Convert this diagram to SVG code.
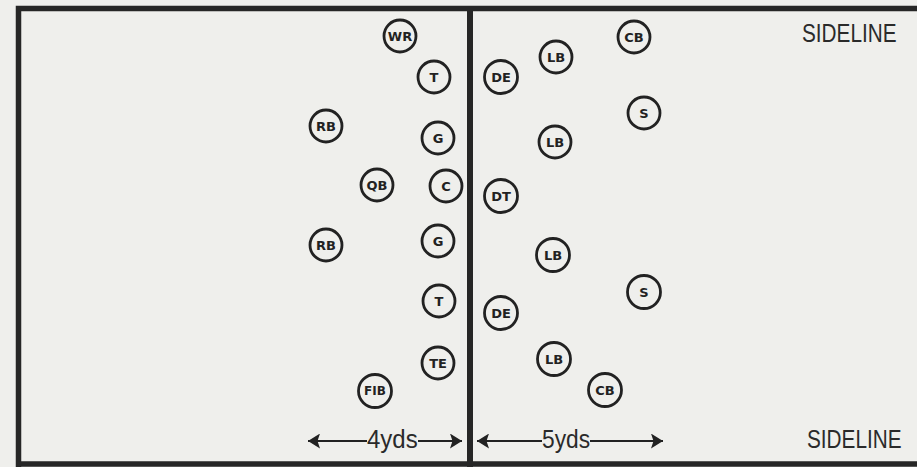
<svg xmlns="http://www.w3.org/2000/svg" width="917" height="467" viewBox="0 0 917 467">
<defs>
<style>
.p circle{fill:none;stroke:#222;stroke-width:2.8}
.p text{font-family:"DejaVu Sans",sans-serif;font-weight:bold;font-size:13px;fill:#222;text-anchor:middle;dominant-baseline:central}
.lbl{font-family:"Liberation Sans",Arial,sans-serif;font-size:25px;fill:#2a2a2a}
.ar{stroke:#222;stroke-width:2;fill:none}
</style>
<marker id="ah" viewBox="0 0 12 15" refX="12" refY="7.5" markerWidth="12" markerHeight="15" markerUnits="userSpaceOnUse" orient="auto">
<path d="M0,0 L12,7.5 L0,15 L2.5,7.5 Z" fill="#222"/>
</marker>
</defs>
<rect x="0" y="0" width="917" height="467" fill="#efefec"/>
<g id="field" fill="none" stroke="#262626">
<path d="M18.5,467 V8.5 H917" stroke-width="5.5"/>
<path d="M18.5,464 H917" stroke-width="5.5"/>
<line x1="470" y1="8" x2="470" y2="467" stroke-width="6"/>
</g>
<g id="O-WR" class="p"><circle cx="400" cy="36" r="16"/><text x="400" y="36">WR</text></g>
<g id="O-T1" class="p"><circle cx="434" cy="77" r="16"/><text x="434" y="77">T</text></g>
<g id="O-RB1" class="p"><circle cx="326" cy="126" r="16"/><text x="326" y="126">RB</text></g>
<g id="O-G1" class="p"><circle cx="438" cy="138" r="16"/><text x="438" y="138">G</text></g>
<g id="O-QB" class="p"><circle cx="377" cy="185" r="16"/><text x="377" y="185">QB</text></g>
<g id="O-C" class="p"><circle cx="446" cy="186" r="16"/><text x="446" y="186">C</text></g>
<g id="O-RB2" class="p"><circle cx="326" cy="245" r="16"/><text x="326" y="245">RB</text></g>
<g id="O-G2" class="p"><circle cx="438" cy="241" r="16"/><text x="438" y="241">G</text></g>
<g id="O-T2" class="p"><circle cx="439" cy="301" r="16"/><text x="439" y="301">T</text></g>
<g id="O-TE" class="p"><circle cx="438" cy="363" r="16"/><text x="438" y="363">TE</text></g>
<g id="O-FIB" class="p"><circle cx="375" cy="391" r="16.5"/><text x="375" y="391" style="font-size:12px">FIB</text></g>
<g id="D-CB1" class="p"><circle cx="634" cy="37" r="16"/><text x="634" y="37">CB</text></g>
<g id="D-LB1" class="p"><circle cx="556" cy="57" r="16"/><text x="556" y="57">LB</text></g>
<g id="D-DE1" class="p"><circle cx="501" cy="77" r="16.5"/><text x="501" y="77">DE</text></g>
<g id="D-S1" class="p"><circle cx="644" cy="113" r="16"/><text x="644" y="113">S</text></g>
<g id="D-LB2" class="p"><circle cx="555" cy="142" r="16"/><text x="555" y="142">LB</text></g>
<g id="D-DT" class="p"><circle cx="501" cy="196" r="16.5"/><text x="501" y="196">DT</text></g>
<g id="D-LB3" class="p"><circle cx="553" cy="255" r="16.5"/><text x="553" y="255">LB</text></g>
<g id="D-S2" class="p"><circle cx="644" cy="292" r="16.5"/><text x="644" y="292">S</text></g>
<g id="D-DE2" class="p"><circle cx="501" cy="313" r="16.5"/><text x="501" y="313">DE</text></g>
<g id="D-LB4" class="p"><circle cx="554" cy="359" r="16.5"/><text x="554" y="359">LB</text></g>
<g id="D-CB2" class="p"><circle cx="605" cy="390" r="16.5"/><text x="605" y="390">CB</text></g>
<g id="connectors">
<line class="ar" x1="367" y1="441" x2="308" y2="441" marker-end="url(#ah)"/>
<line class="ar" x1="418" y1="441" x2="462" y2="441" marker-end="url(#ah)"/>
<line class="ar" x1="542" y1="441" x2="477" y2="441" marker-end="url(#ah)"/>
<line class="ar" x1="590" y1="441" x2="663" y2="441" marker-end="url(#ah)"/>
</g>
<g id="labels">
<text class="lbl" transform="translate(367,448) scale(0.96,1)">4yds</text>
<text class="lbl" transform="translate(542,448) scale(0.91,1)">5yds</text>
<text class="lbl" transform="translate(802,42) scale(0.83,1)">SIDELINE</text>
<text class="lbl" transform="translate(807,448) scale(0.83,1)">SIDELINE</text>
</g>
</svg>
